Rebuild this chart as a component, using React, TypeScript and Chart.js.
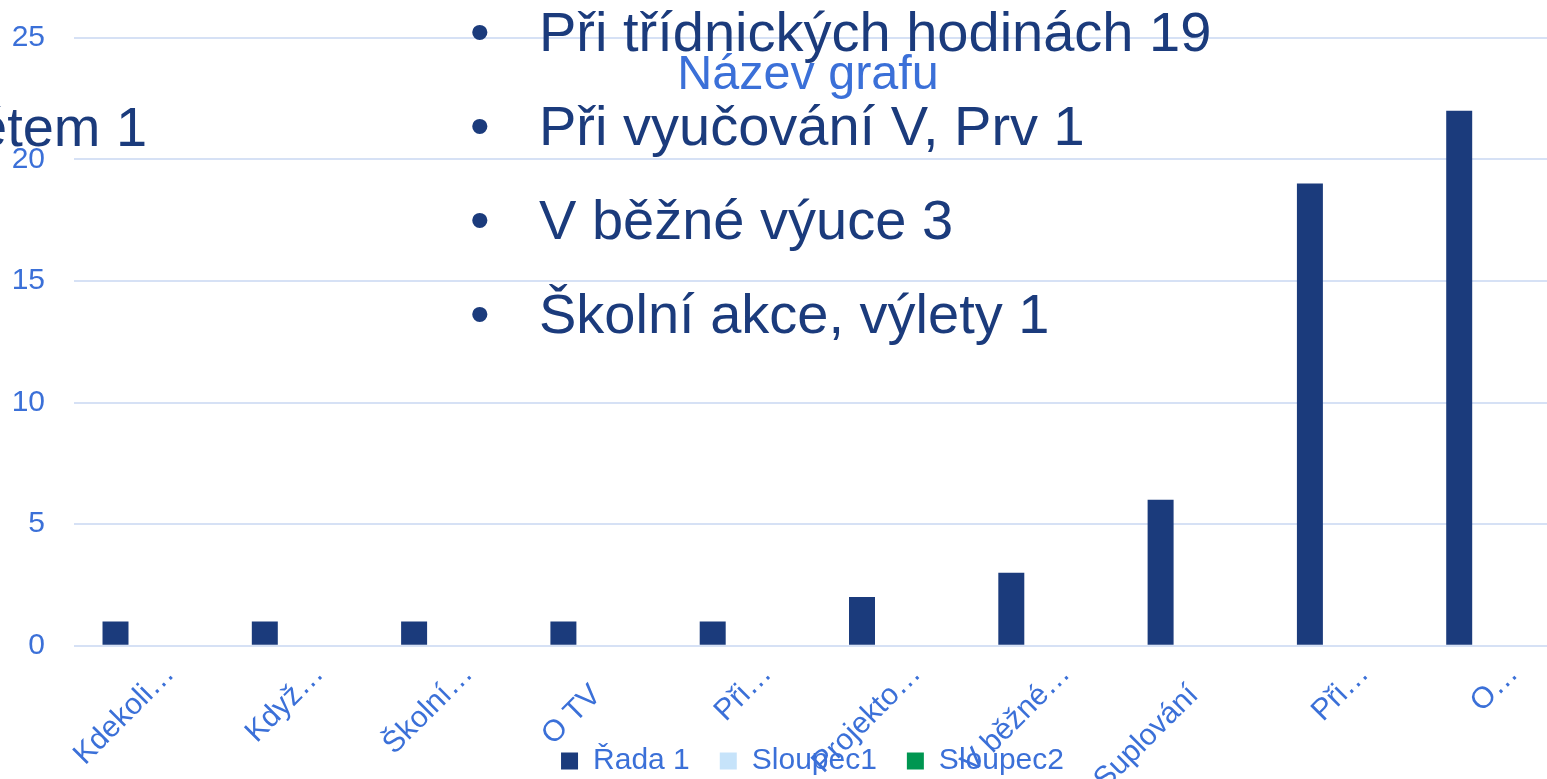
import React, { useEffect, useRef } from "react";
import { Chart, registerables } from "chart.js";

Chart.register(...registerables);

// ---- data ----
const categories = ["Kdekoli…", "Když…", "Školní…", "O TV", "Při…", "Projekto…", "V běžné…", "Suplování", "Při…", "O…"];
const rada1 = [1, 1, 1, 1, 1, 2, 3, 6, 19, 22];
const sloupec1: (number | null)[] = [];
const sloupec2: (number | null)[] = [];
const seriesNames = ["Řada 1", "Sloupec1", "Sloupec2"];
const yTicks = [0, 5, 10, 15, 20, 25];
const chartTitle = "Název grafu";
const bulletLines = ["Při třídnických hodinách 19", "Při vyučování V, Prv 1", "V běžné výuce 3", "Školní akce, výlety 1"];
const sideText = "ětem 1";

// ---- style ----
const FONT = '"Liberation Sans", Arial, sans-serif';
const NAVY = "#1B3B7C";
const BLUE = "#3B70D8";
const GRID = "#D6E1F5";
const LIGHT = "#C6E3FA";
const GREEN = "#009651";
const TICK_SIZE = 30;
const X_PAD = 32;
const ELL = "…";

// Excel-style truncation: the text before the ellipsis ends at the tick, the ellipsis follows it.
const ellipsisPlugin = {
  id: "ellipsisAfter",
  afterDraw(chart: any) {
    const sc = chart.scales.x;
    if (!sc) return;
    const ctx = chart.ctx;
    const rot = -Math.PI / 4;
    const lh = TICK_SIZE * 1.2;
    ctx.save();
    ctx.font = `${TICK_SIZE}px ${FONT}`;
    ctx.fillStyle = BLUE;
    ctx.textAlign = "left";
    ctx.textBaseline = "middle";
    categories.forEach((c, i) => {
      if (!c.endsWith(ELL)) return;
      const x = sc.getPixelForTick(i) + (lh / 2) * Math.sin(rot);
      const y = sc.top + X_PAD;
      ctx.save();
      ctx.translate(x, y);
      ctx.rotate(rot);
      ctx.fillText(ELL, 0, lh / 2);
      ctx.restore();
    });
    ctx.restore();
  },
};

export default function App() {
  const ref = useRef<HTMLCanvasElement | null>(null);

  useEffect(() => {
    const prevHtml = document.documentElement.style.overflow;
    const prevBody = document.body.style.overflow;
    document.documentElement.style.overflow = "hidden";
    document.body.style.overflow = "hidden";
    if (!ref.current) return;
    const chart = new Chart(ref.current, {
      type: "bar",
      data: {
        labels: categories,
        datasets: [
          { label: seriesNames[0], data: rada1, backgroundColor: NAVY, borderWidth: 0, categoryPercentage: 0.666, barPercentage: 0.784 },
          { label: seriesNames[1], data: sloupec1, backgroundColor: LIGHT, borderWidth: 0, categoryPercentage: 0.666, barPercentage: 0.784 },
          { label: seriesNames[2], data: sloupec2, backgroundColor: GREEN, borderWidth: 0, categoryPercentage: 0.666, barPercentage: 0.784 },
        ],
      },
      plugins: [ellipsisPlugin],
      options: {
        responsive: false,
        animation: false,
        layout: { padding: { left: 58, right: 33, top: 37.7, bottom: 0 } },
        plugins: {
          title: { display: false },
          tooltip: { enabled: false },
          legend: {
            position: "bottom",
            labels: {
              boxWidth: 17,
              boxHeight: 17,
              padding: 30,
              color: BLUE,
              font: { family: FONT, size: 30 },
            },
          },
        },
        scales: {
          x: {
            grid: { display: false, drawTicks: false },
            border: { display: false },
            ticks: {
              autoSkip: false,
              minRotation: 45,
              maxRotation: 45,
              padding: X_PAD,
              color: BLUE,
              font: { family: FONT, size: TICK_SIZE },
              callback: (_v: any, i: number) => {
                const c = categories[i];
                return c.endsWith(ELL) ? c.slice(0, -ELL.length) : c;
              },
            },
            afterFit: (s: any) => {
              s.height = 70.3;
              s._computeLabelArea = () => null;
            },
          },
          y: {
            min: 0,
            max: 25,
            grid: { color: GRID, lineWidth: 2, drawTicks: false },
            border: { display: false },
            ticks: {
              padding: 29,
              color: BLUE,
              font: { family: FONT, size: TICK_SIZE },
            },
            afterBuildTicks: (s: any) => {
              s.ticks = yTicks.map((v) => ({ value: v }));
            },
            afterFit: (s: any) => {
              s.width = 16;
              s.paddingTop = 0;
              s.paddingBottom = 0;
              s._computeLabelArea = () => null;
            },
          },
        },
      },
    });
    return () => {
      chart.destroy();
      document.documentElement.style.overflow = prevHtml;
      document.body.style.overflow = prevBody;
    };
  }, []);

  const textStyle: React.CSSProperties = {
    position: "absolute",
    fontFamily: FONT,
    fontSize: 56,
    color: NAVY,
    whiteSpace: "nowrap",
    lineHeight: "93.7px",
  };

  return (
    <div style={{ position: "fixed", left: 0, top: 0, width: "100vw", height: "100vh", overflow: "hidden", background: "#fff" }}>
      <canvas ref={ref} width={1600} height={786} style={{ position: "absolute", left: 0, top: 0, width: 1600, height: 786 }} />
      <div style={{ ...textStyle, left: -24, top: 79.5 }}>{sideText}</div>
      {bulletLines.map((t, i) => (
        <React.Fragment key={i}>
          <div style={{ ...textStyle, left: 470, top: -14.55 + i * 93.7 }}>•</div>
          <div style={{ ...textStyle, left: 539, top: -14.55 + i * 93.7 }}>{t}</div>
        </React.Fragment>
      ))}
      <div
        style={{
          position: "absolute",
          left: 808,
          top: 48,
          transform: "translateX(-50%)",
          fontFamily: FONT,
          fontSize: 48.5,
          lineHeight: 1,
          color: BLUE,
          whiteSpace: "nowrap",
        }}
      >
        {chartTitle}
      </div>
    </div>
  );
}
